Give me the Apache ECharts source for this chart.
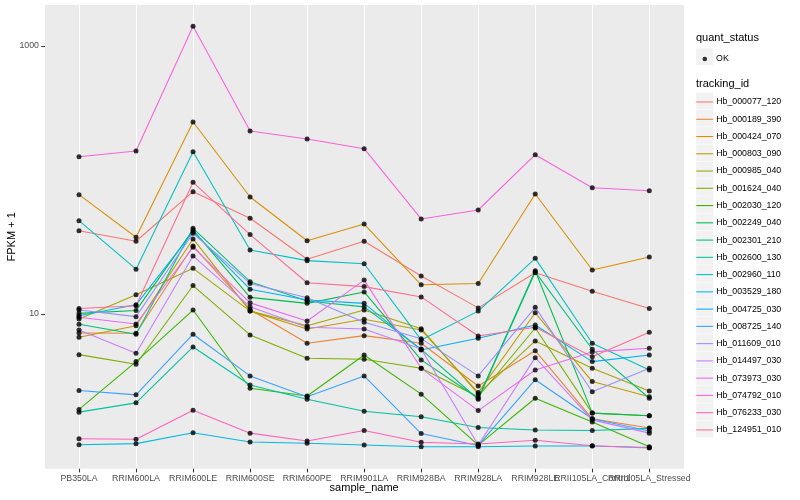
<!DOCTYPE html>
<html><head><meta charset="utf-8">
<script src="https://cdn.jsdelivr.net/npm/echarts@6/dist/echarts.min.js"></script>
<style>html,body{margin:0;padding:0;background:#fff}#c{width:800px;height:500px}</style>
</head><body><div id="c"></div>
<script>
const categories = ['PB350LA','RRIM600LA','RRIM600LE','RRIM600SE','RRIM600PE','RRIM901LA','RRIM928BA','RRIM928LA','RRIM928LE','RRII105LA_Control','RRII105LA_Stressed'];
const trackingIds = ['Hb_000077_120','Hb_000189_390','Hb_000424_070','Hb_000803_090','Hb_000985_040','Hb_001624_040','Hb_002030_120','Hb_002249_040','Hb_002301_210','Hb_002600_130','Hb_002960_110','Hb_003529_180','Hb_004725_030','Hb_008725_140','Hb_011609_010','Hb_014497_030','Hb_073973_030','Hb_074792_010','Hb_076233_030','Hb_124951_010'];
const yTickLabels = [10, 1000];

const Hb_000077_120 = [41.8, 34.9, 81.8, 51.8, 25.6, 34.9, 19.2, 11.1, 20.3, 14.8, 11.0];
const Hb_000189_390 = [7.22, 7.18, 32.2, 10.8, 6.04, 6.89, 6.04, 2.90, 5.32, 1.65, 1.41];
const Hb_000424_070 = [77.7, 37.4, 270.9, 74.7, 35.2, 46.9, 16.5, 16.9, 78.6, 21.3, 26.6];
const Hb_000803_090 = [6.70, 8.18, 36.3, 10.5, 7.73, 9.13, 7.60, 2.59, 10.2, 3.13, 2.41];
const Hb_000985_040 = [9.18, 13.9, 21.9, 10.5, 8.18, 10.7, 7.77, 2.53, 6.29, 3.93, 2.66];
const Hb_001624_040 = [4.97, 4.21, 16.3, 6.97, 4.67, 4.59, 3.93, 2.41, 7.86, 1.82, 1.74];
const Hb_002030_120 = [1.94, 4.41, 10.7, 2.79, 2.44, 4.94, 2.52, 1.05, 2.35, 1.56, 1.02];
const Hb_002249_040 = [10.1, 10.6, 42.4, 13.3, 12.0, 14.6, 4.54, 2.35, 21.0, 1.82, 1.74];
const Hb_002301_210 = [8.38, 7.06, 43.6, 17.4, 12.5, 11.3, 5.45, 2.31, 20.6, 5.45, 2.35];
const Hb_002600_130 = [1.85, 2.17, 5.67, 2.95, 2.31, 1.88, 1.71, 1.42, 1.36, 1.35, 1.40];
const Hb_002960_110 = [49.7, 21.6, 162.6, 30.0, 25.0, 23.7, 6.40, 10.5, 26.0, 6.04, 3.82];
const Hb_003529_180 = [1.058, 1.077, 1.30, 1.108, 1.084, 1.053, 1.022, 1.022, 1.035, 1.035, 1.009];
const Hb_004725_030 = [9.71, 11.7, 41.1, 15.3, 12.7, 12.0, 5.39, 6.59, 8.28, 4.41, 4.94];
const Hb_008725_140 = [2.68, 2.49, 7.06, 3.45, 2.41, 3.45, 1.28, 1.044, 3.23, 1.65, 1.34];
const Hb_011609_010 = [10.7, 9.55, 40.0, 16.9, 13.2, 8.67, 6.54, 3.45, 11.2, 2.63, 3.93];
const Hb_014497_030 = [7.60, 5.09, 27.1, 11.3, 7.96, 7.73, 5.48, 1.053, 4.72, 1.62, 1.29];
const Hb_073973_030 = [9.45, 8.42, 31.5, 12.1, 8.87, 17.9, 3.93, 1.90, 3.82, 5.21, 5.55];
const Hb_074792_010 = [149.2, 164.6, 1403, 232.1, 202.3, 171.2, 51.2, 59.7, 154.5, 87.6, 83.2];
const Hb_076233_030 = [1.173, 1.161, 1.911, 1.29, 1.128, 1.35, 1.103, 1.071, 1.141, 1.040, 1.0];
const Hb_124951_010 = [11.0, 11.5, 96.1, 39.1, 17.1, 16.0, 13.4, 6.85, 7.96, 4.80, 7.30];

const seriesValues = [Hb_000077_120, Hb_000189_390, Hb_000424_070, Hb_000803_090, Hb_000985_040, Hb_001624_040, Hb_002030_120, Hb_002249_040, Hb_002301_210, Hb_002600_130, Hb_002960_110, Hb_003529_180, Hb_004725_030, Hb_008725_140, Hb_011609_010, Hb_014497_030, Hb_073973_030, Hb_074792_010, Hb_076233_030, Hb_124951_010];

const palette = ['#F8766D','#EA8331','#D89000','#C09B00','#A3A500','#7CAE00','#39B600','#00BB4E','#00BF7D','#00C1A3','#00BFC4','#00BAE0','#00B0F6','#35A2FF','#9590FF','#C77CFF','#E76BF3','#FA62DB','#FF62BC','#FF6C91'];

const FONT = '"Liberation Sans", Arial, Helvetica, sans-serif';
const yMin = 0.7, yMax = 2023;
const panel = {left: 45, right: 116, top: 5, bottom: 31.3};
const catFirstX = 79, catLastX = 649.3;

const chart = echarts.init(document.getElementById('c'));

const lineSeries = trackingIds.map((id, i) => ({
  name: id, type: 'line', xAxisIndex: 1, yAxisIndex: 1,
  data: seriesValues[i], symbol: 'none', showSymbol: false,
  lineStyle: {width: 1.07, color: palette[i]}, itemStyle: {color: palette[i]},
  emphasis: {disabled: true}, silent: true, z: 2
}));
const pointData = [];
seriesValues.forEach(vals => vals.forEach((v, j) => pointData.push([categories[j], v])));
const pointSeries = {
  name: 'OK', type: 'scatter', xAxisIndex: 1, yAxisIndex: 1, data: pointData,
  symbol: 'circle', symbolSize: 5, itemStyle: {color: '#000000'}, z: 3, silent: true,
  emphasis: {disabled: true}
};

const keyRects = [];
keyRects.push({type: 'rect', shape: {x: 696.2, y: 48.3, width: 17, height: 17}, style: {fill: '#f2f2f2'}, z: 0});
for (let i = 0; i < trackingIds.length; i++) {
  keyRects.push({type: 'rect', shape: {x: 696.2, y: 92.6 + i * 17.26, width: 17, height: 16.8}, style: {fill: '#f2f2f2'}, z: 0});
}

chart.setOption({
  animation: false,
  backgroundColor: '#ffffff',
  textStyle: {fontFamily: FONT},
  title: [
    {text: 'quant_status', left: 696, top: 32, padding: 0, textStyle: {fontFamily: FONT, fontSize: 11, fontWeight: 'normal', color: '#000'}},
    {text: 'tracking_id', left: 696, top: 78, padding: 0, textStyle: {fontFamily: FONT, fontSize: 11, fontWeight: 'normal', color: '#000'}}
  ],
  graphic: keyRects,
  legend: [
    {data: [{name: 'OK', icon: 'circle'}], orient: 'vertical', left: 702.5, top: 54.5, padding: 0, icon: 'circle', itemWidth: 4.6, itemHeight: 4.6,
     selectedMode: false, itemStyle: {color: '#000'}, textStyle: {fontFamily: FONT, fontSize: 8.8, color: '#000', padding: [0, 0, 0, 4]}},
    {data: trackingIds.map(n => ({name: n, icon: 'rect'})), orient: 'vertical', left: 696.2, top: 93.5, padding: 0,
     icon: 'rect', itemWidth: 17, itemHeight: 1.07, itemGap: 0.26,
     selectedMode: false, textStyle: {fontFamily: FONT, fontSize: 8.8, color: '#000', lineHeight: 17, padding: [0, 0, 0, -2]}}
  ],
  grid: [
    {left: panel.left, right: panel.right, top: panel.top, bottom: panel.bottom, show: true, backgroundColor: '#ebebeb', borderWidth: 0, containLabel: false, outerBoundsMode: 'none'},
    {left: catFirstX, right: 800 - catLastX, top: panel.top, bottom: panel.bottom, show: false, containLabel: false, outerBoundsMode: 'none'}
  ],
  xAxis: [
    {gridIndex: 0, type: 'value', show: false, min: 0, max: 1},
    {gridIndex: 1, type: 'category', data: categories, boundaryGap: false,
     axisLine: {show: false},
     axisTick: {show: true, length: 3.7, lineStyle: {color: '#333333', width: 1.07}},
     axisLabel: {interval: 0, hideOverlap: false, margin: 5.5, fontFamily: FONT, fontSize: 8.8, color: '#4d4d4d'},
     splitLine: {show: true, lineStyle: {color: '#ffffff', width: 1.07}},
     name: 'sample_name', nameLocation: 'middle', nameGap: 14, nameMoveOverlap: false,
     nameTextStyle: {fontFamily: FONT, fontSize: 11, color: '#000'}}
  ],
  yAxis: [
    {gridIndex: 0, type: 'log', logBase: 10, min: yMin, max: yMax,
     axisLine: {show: false},
     axisTick: {show: true, length: 3.7, customValues: yTickLabels, lineStyle: {color: '#333333', width: 1.07}},
     axisLabel: {show: true, customValues: yTickLabels, margin: 6, fontFamily: FONT, fontSize: 8.8, color: '#4d4d4d',
       formatter: v => { const r = Math.round(v); return yTickLabels.indexOf(r) >= 0 ? String(r) : ''; }},
     splitLine: {show: true, showMinLine: false, showMaxLine: false, lineStyle: {color: ['#f6f6f6', '#ffffff'], width: 1.07}},
     name: 'FPKM + 1', nameLocation: 'middle', nameGap: 28, nameRotate: 90, nameMoveOverlap: false,
     nameTextStyle: {fontFamily: FONT, fontSize: 11, color: '#000'}},
    {gridIndex: 1, type: 'log', logBase: 10, min: yMin, max: yMax, show: false, splitLine: {show: false}}
  ],
  series: lineSeries.concat([pointSeries])
});
</script>
</body></html>
